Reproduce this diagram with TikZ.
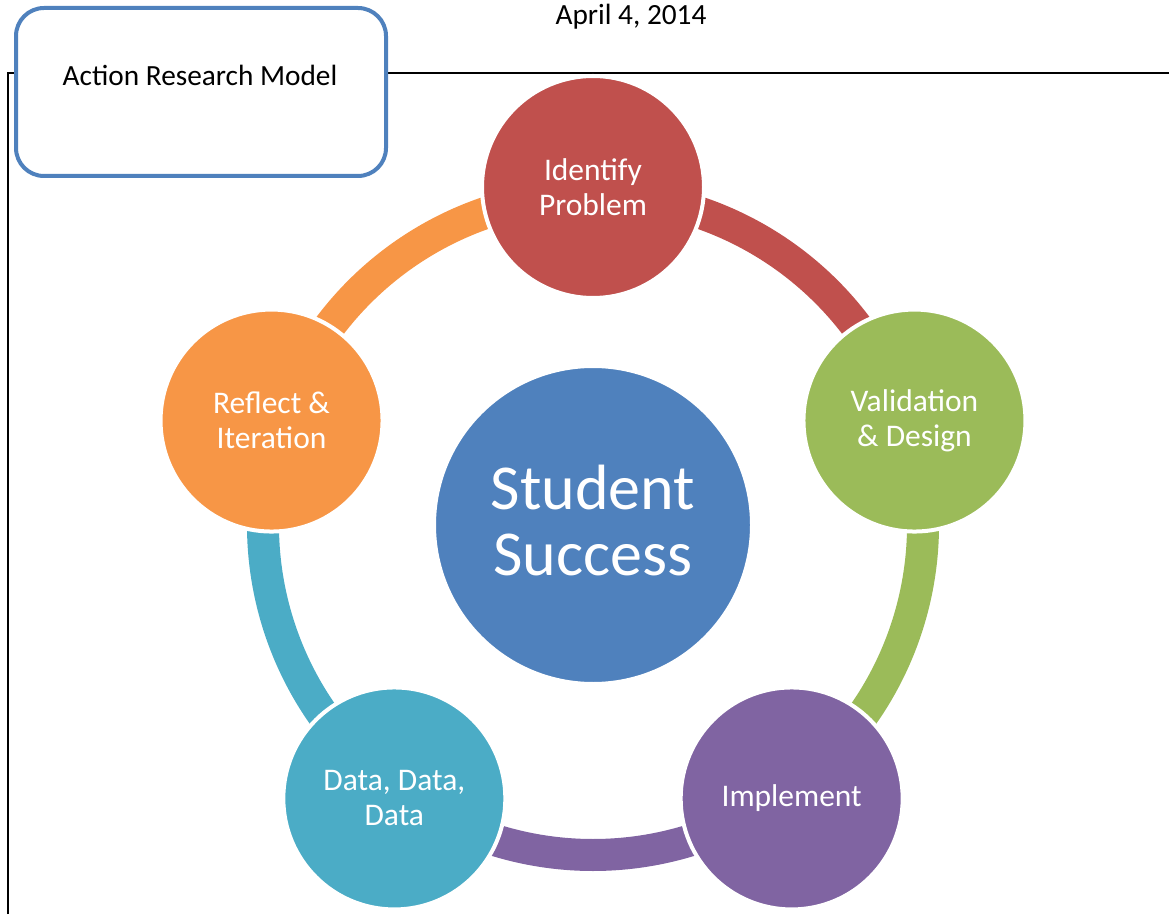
\documentclass[tikz,border=0pt]{standalone}
\usepackage{fontspec}
\setmainfont{Carlito}
\usetikzlibrary{calc}
\definecolor{cRed}{HTML}{C0504D}
\definecolor{cGreen}{HTML}{9BBB59}
\definecolor{cPurple}{HTML}{8064A2}
\definecolor{cAqua}{HTML}{4BACC6}
\definecolor{cOrange}{HTML}{F79646}
\definecolor{cBlue}{HTML}{4F81BD}
\begin{document}
\begin{tikzpicture}[x=1pt,y=1pt,
  stage/.style={circle,minimum size=222pt,inner sep=0pt,draw=white,line width=4pt,
    fill=#1,text=white,align=center,font=\fontsize{31.5}{35}\selectfont},
  band/.style={line width=32pt,line cap=butt,draw=#1},
  rule/.style={line width=1.6pt,black},
  titlebox/.style={draw=cBlue,line width=4pt,fill=white,rounded corners=28pt},
  plain/.style={inner sep=0pt,font=\fontsize{29.3}{34}\selectfont}]
\useasboundingbox (0,0) rectangle (1169,914);
\coordinate (c) at (593,389);
% frame lines
\coordinate (ltop) at (8,841);
\coordinate (lbot) at (8,0);
\coordinate (rtop) at (1169,841);
\draw[rule] (lbot) -- (ltop) -- (rtop);
% title box
\draw[titlebox] (16,906) rectangle (386,738);
\node[plain,anchor=base] (title) at (200,828) {Action Research Model};
\node[plain,anchor=base] (date) at (631,889) {April 4, 2014};
% arcs
\draw[band=cRed]    ($(c)+(90:330)$)  arc[start angle=90,end angle=18,radius=330];
\draw[band=cGreen]  ($(c)+(18:330)$)  arc[start angle=18,end angle=-54,radius=330];
\draw[band=cPurple] ($(c)+(-54:330)$) arc[start angle=-54,end angle=-126,radius=330];
\draw[band=cAqua]   ($(c)+(-126:330)$) arc[start angle=-126,end angle=-198,radius=330];
\draw[band=cOrange] ($(c)+(162:330)$) arc[start angle=162,end angle=90,radius=330];
% nodes
\node[stage=cRed]    (identify) at ($(c)+(90:338)$)   {Identify\\Problem};
\node[stage=cGreen]  (valid)    at ($(c)+(18:338)$)   {Validation\\\& Design};
\node[stage=cPurple] (impl)     at ($(c)+(-54:338)$)  {Implement};
\node[stage=cAqua]   (data)     at ($(c)+(-126:338)$) {Data, Data,\\Data};
\node[stage=cOrange] (reflect)  at ($(c)+(162:338)$)  {Reflect \&\\Iteration};
\node[circle,minimum size=318pt,inner sep=0pt,draw=white,line width=4pt,fill=cBlue] (center) at (c) {};
\node[text=white,align=center,inner sep=0pt,font=\fontsize{64}{66}\selectfont,yshift=4pt] (centertext) at (center) {Student\\Success};
\end{tikzpicture}
\end{document}
